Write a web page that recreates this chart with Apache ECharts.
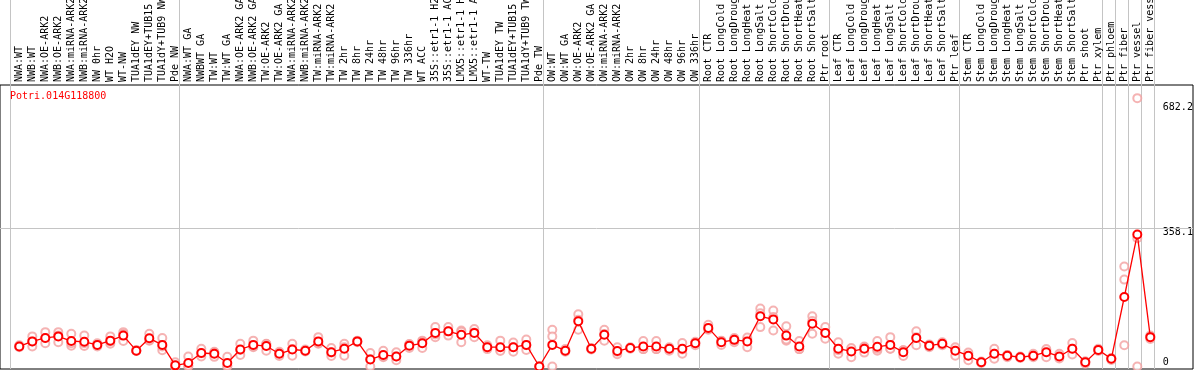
<!DOCTYPE html>
<html><head><meta charset="utf-8">
<script src="https://cdn.jsdelivr.net/npm/echarts@6/dist/echarts.min.js"></script>
<style>html,body{margin:0;padding:0;background:#fff}#c{width:1194px;height:370px}</style>
</head><body><div id="c"></div>
<script>
const chartTitle = 'Potri.014G118800';
const categories = [
 'NWA:WT','NWB:WT','NWA:OE-ARK2','NWB:OE-ARK2','NWA:miRNA-ARK2','NWB:miRNA-ARK2','NW 0hr','WT H2O','WT-NW','TUA1dEY NW','TUA1dEY+TUB15 NW','TUA1dY+TUB9 NW','Pde NW',
 'NWA:WT GA','NWBWT GA','TW:WT','TW:WT GA','NWA:OE-ARK2 GA','NWB:OE-ARK2 GA','TW:OE-ARK2','TW:OE-ARK2 GA','NWA:miRNA-ARK2 GA','NWB:miRNA-ARK2 GA','TW:miRNA-ARK2','TW:miRNA-ARK2 GA',
 'TW 2hr','TW 8hr','TW 24hr','TW 48hr','TW 96hr','TW 336hr','WT ACC','35S::etr1-1 H2O','35S::etr1-1 ACC','LMX5::etr1-1 H2O','LMX5::etr1-1 ACC','WT-TW','TUA1dEY TW','TUA1dEY+TUB15 TW','TUA1dY+TUB9 TW','Pde TW',
 'OW:WT','OW:WT GA','OW:OE-ARK2','OW:OE-ARK2 GA','OW:miRNA-ARK2','OW:miRNA-ARK2 GA','OW 2hr','OW 8hr','OW 24hr','OW 48hr','OW 96hr','OW 336hr',
 'Root CTR','Root LongCold','Root LongDrought','Root LongHeat','Root LongSalt','Root ShortCold','Root ShortDrought','Root ShortHeat','Root ShortSalt','Ptr root',
 'Leaf CTR','Leaf LongCold','Leaf LongDrought','Leaf LongHeat','Leaf LongSalt','Leaf ShortCold','Leaf ShortDrought','Leaf ShortHeat','Leaf ShortSalt','Ptr leaf',
 'Stem CTR','Stem LongCold','Stem LongDrought','Stem LongHeat','Stem LongSalt','Stem ShortCold','Stem ShortDrought','Stem ShortHeat','Stem ShortSalt','Ptr shoot','Ptr xylem',
 'Ptr phloem','Ptr fiber','Ptr vessel','Ptr fiber vessel'
];
const meanValues = [
 52,65,74,78,66,64,56,67,80,41,73,56,3,
 9,35,33,9,44,56,53,33,44,41,65,37,
 46,65,18,30,26,54,60,87,91,82,87,50,50,50,56,0,
 56,41,117,46,82,40,48,52,52,46,46,60,
 100,63,69,65,130,122,80,52,111,87,
 46,39,46,51,56,37,74,54,59,41,
 28,11,33,28,24,28,37,26,46,11,43,
 20,180,342,76
];
const rep1 = [
 55,78,89,89,85,80,60,78,89,43,85,74,11,
 26,46,38,25,59,67,59,38,59,44,76,48,
 59,67,35,41,37,57,67,102,102,93,97,55,67,62,70,0,
 95,45,135,48,95,50,50,66,66,50,61,64,
 108,67,74,70,150,145,104,66,130,102,
 63,45,52,66,76,42,91,57,63,45,
 33,13,46,30,26,33,42,33,61,13,46,
 22,259,695,80
];
const rep2 = [
 50,52,60,63,54,53,52,59,66,40,67,42,0,
 0,26,25,0,30,50,41,27,28,39,59,27,
 28,63,0,24,16,48,48,76,80,63,76,45,43,38,43,0,
 78,38,95,44,67,32,46,45,45,41,33,55,
 95,56,63,50,102,93,67,45,118,72,
 33,24,36,41,46,27,55,50,55,28,
 16,9,20,24,22,24,24,24,31,7,40,
 17,225,0,71
];
const rep3 = [
 52,65,74,80,60,60,56,65,84,41,68,52,0,
 2,34,36,2,43,52,58,34,45,41,60,36,
 50,65,19,26,26,58,65,83,91,90,88,50,40,50,55,0,
 0,41,121,46,84,38,48,45,45,46,44,61,
 97,66,70,75,138,128,70,45,85,87,
 42,48,50,46,46,42,76,56,59,50,
 36,11,33,30,24,28,45,21,46,13,43,
 21,55,332,77
];
const yLabelValues = [0, 358.1, 682.2];
const yGridValues = [358.1];
const separatorBefore = [0, 13, 41, 53, 63, 73, 84, 85, 86, 87];

const MONO = 'DejaVu Sans Mono';
const Y_MAX = 729;
const chart = echarts.init(document.getElementById('c'), null, {renderer: 'canvas'});

function repData(arr) { return arr.map((v, i) => [i, v]); }
const repStyle = {
  type: 'scatter', xAxisIndex: 0, yAxisIndex: 0, symbol: 'emptyCircle', symbolSize: 8,
  itemStyle: {color: '#f2a0a0', borderColor: '#f0a0a0', borderWidth: 1.5}, z: 2, silent: true, animation: false
};
const gridBase = {containLabel: false, outerBoundsMode: 'none'};

chart.setOption({
  animation: false,
  title: {text: chartTitle, left: 10, top: 91, padding: 0,
    textStyle: {color: '#ff0000', fontFamily: MONO, fontSize: 10, fontWeight: 'normal'}},
  grid: [
    Object.assign({left: 12.8, right: 37.2, top: 85, bottom: 3.5}, gridBase),
    Object.assign({left: 10.7, right: 39.3, top: 0, bottom: 1}, gridBase),
    Object.assign({left: 0, right: 1, top: 85, bottom: 1, show: true, borderColor: '#000', borderWidth: 1, backgroundColor: 'transparent'}, gridBase)
  ],
  xAxis: [
    {type: 'category', gridIndex: 0, data: categories, position: 'top', boundaryGap: true,
     axisLine: {show: false}, axisTick: {show: false}, splitLine: {show: false},
     axisLabel: {interval: 0, rotate: 90, margin: 3,
       fontFamily: MONO, fontSize: 10, color: '#000'}},
    {type: 'category', gridIndex: 1, data: categories, boundaryGap: true,
     axisLine: {show: false}, axisTick: {show: false}, axisLabel: {show: false},
     splitLine: {show: true, interval: (idx) => separatorBefore.includes(idx), lineStyle: {color: '#c4c4c4', width: 1}}},
    {type: 'value', gridIndex: 2, min: 0, max: 1, show: false}
  ],
  yAxis: [
    {type: 'value', gridIndex: 0, position: 'right', min: 0, max: Y_MAX, interval: 243,
     axisLine: {show: false}, axisTick: {show: false}, splitLine: {show: false},
     axisLabel: {show: true, customValues: yLabelValues, margin: 6, align: 'left', verticalAlign: 'middle',
       fontFamily: MONO, fontSize: 10, color: '#000',
       formatter: (v) => v === 0 ? '{b|0}' : '{t|' + v + '}',
       rich: {b: {padding: [0, 0, 9, 0], fontFamily: MONO, fontSize: 10, color: '#000'},
              t: {padding: [8, 0, 0, 0], fontFamily: MONO, fontSize: 10, color: '#000'}}}},
    {type: 'value', gridIndex: 1, min: 0, max: 1, show: false},
    {type: 'value', gridIndex: 2, min: -6.5, max: Y_MAX, show: false}
  ],
  series: [
    {type: 'line', xAxisIndex: 2, yAxisIndex: 2, data: [], silent: true,
     markLine: {silent: true, symbol: 'none', label: {show: false},
       lineStyle: {color: '#c4c4c4', width: 1, type: 'solid'},
       data: yGridValues.map(v => ({yAxis: v}))}},
    Object.assign({name: 'rep1', data: repData(rep1)}, repStyle),
    Object.assign({name: 'rep2', data: repData(rep2)}, repStyle),
    Object.assign({name: 'rep3', data: repData(rep3)}, repStyle),
    {type: 'line', name: 'mean', xAxisIndex: 0, yAxisIndex: 0, data: meanValues, z: 5,
     symbol: 'emptyCircle', symbolSize: 8, showAllSymbol: true,
     lineStyle: {color: '#ff0000', width: 1.3},
     itemStyle: {color: '#ff0000', borderColor: '#e00000', borderWidth: 1.8}}
  ]
});
</script></body></html>
